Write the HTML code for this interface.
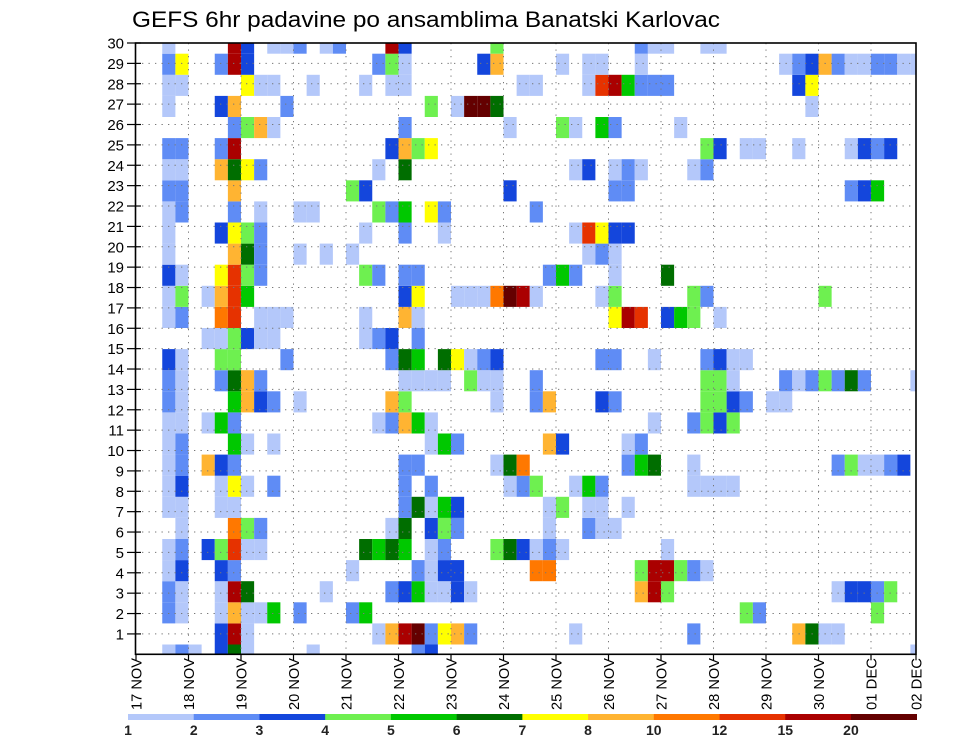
<!DOCTYPE html>
<html><head><meta charset="utf-8"><title>GEFS 6hr padavine</title>
<style>
html,body{margin:0;padding:0;background:#fff;}
svg{display:block;font-family:"Liberation Sans",sans-serif;}
</style></head>
<body>
<svg id="chart" width="960" height="742" viewBox="0 0 960 742" xmlns="http://www.w3.org/2000/svg">
  <defs><clipPath id="plotclip"><rect x="135.5" y="43" width="780.5" height="611.3"/></clipPath></defs>
  <text x="132" y="27" font-size="22" textLength="588" lengthAdjust="spacingAndGlyphs">GEFS 6hr padavine po ansamblima Banatski Karlovac</text>
  <g id="cells" clip-path="url(#plotclip)"></g>
  <g id="grid"></g>
  <rect x="135.5" y="43" width="780.5" height="611.3" fill="none" stroke="#000" stroke-width="1.6"/>
  <g id="yaxis"></g>
  <g id="xaxis"></g>
  <g id="legend"></g>
</svg>
<script>
// ---- data ----
const levelCodes = ["a","b","c","d","e","f","g","h","i","j","k","l"];
const levelColors = ["#b4c8fa","#5f8cf5","#1446dc","#6ef050","#00c800","#006e00","#ffff00","#ffb432","#ff7800","#e63200","#aa0000","#640000"];
const levelLabels = ["1","2","3","4","5","6","7","8","10","12","15","20"];
const dayLabels = ["17 NOV","18 NOV","19 NOV","20 NOV","21 NOV","22 NOV","23 NOV","24 NOV","25 NOV","26 NOV","27 NOV","28 NOV","29 NOV","30 NOV","01 DEC","02 DEC"];
const memberLabels = [1,2,3,4,5,6,7,8,9,10,11,12,13,14,15,16,17,18,19,20,21,22,23,24,25,26,27,28,29,30];
// member rows (index = row from bottom), entries "column+levelcode", column = 6-hour step from 17 NOV 00Z
const rows = [
"2a 3b 4a 6c 7f 8a 13a 21b 22c 59a",
"6c 7k 8a 18a 19h 20k 21l 22b 23g 24h 25b 33a 42b 50h 51f 52a 53a",
"2b 3a 6a 7h 8a 9a 10e 12b 16b 17e 46d 47b 56d",
"2b 3a 6a 7k 8f 14a 19b 20c 21e 22a 23a 24c 25a 38h 39k 40d 53a 54c 55c 56b 57d",
"2a 3c 6c 7b 16a 21b 22a 23c 24c 30i 31i 38d 39k 40k 41d 42b 43a",
"2a 3b 5c 6d 7j 8a 9a 17f 18e 19f 20e 22a 23b 27d 28f 29c 30a 31b 32a 40a",
"3a 7i 8d 9b 19a 20f 22c 23d 24b 31a 34b 35a 36a",
"2a 3a 6a 7a 20b 21f 22a 23e 24c 31a 32d 34a 35a 37a",
"2a 3c 6a 7g 8a 10b 20b 22b 28a 29b 30d 33a 34e 35b 42a 43a 44a 45a",
"2a 3b 5h 6c 7b 20b 21b 27a 28f 29i 37b 38e 39f 42a 53b 54d 55a 56a 57b 58c",
"2a 3b 7e 8a 10a 22a 23e 24b 31h 32c 37a 38b",
"2a 3a 5a 6e 7b 18a 19b 20h 21e 22a 39a 42b 43d 44c 45d",
"2b 3a 7e 8h 9c 10b 12a 19h 20d 27a 30b 31h 35c 36b 43d 44d 45c 46b 48a 49a",
"2b 3a 6b 7f 8h 9b 20a 21a 22a 23a 25d 26a 27a 30b 43d 44d 45a 49b 50a 51b 52d 53b 54f 55b 59a",
"2c 3a 6d 7d 11b 19b 20f 21e 23f 24g 25a 26b 27c 35b 36b 39a 43b 44c 45a 46a",
"5a 6a 7d 8c 9a 10a 17a 18b 19c 21b",
"2a 3b 6i 7j 9a 10a 11a 17a 20h 21a 36g 37k 38j 40c 41e 42d 44a",
"2a 3d 5a 6h 7j 8e 20c 21g 24a 25a 26a 27i 28l 29k 30a 35a 36d 42d 43b 52d",
"2c 3a 6g 7j 8d 9b 17d 18b 20b 21b 31b 32e 33b 36a 40f",
"2a 7h 8f 9b 12a 14a 16a 34a 35b 36a",
"2a 6c 7g 8d 9b 17a 20b 23a 33a 34j 35g 36c 37c",
"2a 3b 7b 9a 12a 13a 18d 19b 20e 22g 23b 30b",
"2b 3b 7h 16d 17c 28c 36b 37b 54b 55c 56e",
"2a 3a 6h 7f 8g 9b 18a 20f 33a 34c 36a 37b 38a 42a 43b",
"2b 3b 6b 7k 19c 20h 21d 22g 43d 44c 46a 47a 50a 54a 55c 56b 57c",
"7b 8d 9h 10a 20b 28a 32d 33a 35e 36b 41a",
"2a 6c 7h 11b 22d 24a 25l 26l 27f 51a",
"2a 3a 8g 9a 10a 13a 17a 19a 20a 29a 30a 34a 35j 36k 37e 38b 39b 40b 50c 51g",
"2b 3g 6b 7k 8c 18b 19d 20a 26c 27h 32a 34a 35a 38a 49a 50b 51c 52h 53b 54a 55a 56b 57b 58a 59a",
"2a 7k 8c 10a 11a 12b 14a 15b 19k 20c 27d 38b 39a 40a 43a 44a"
];

// ---- scales ----
const NS = "http://www.w3.org/2000/svg";
const PL = 135.5, PR = 916, PT = 43, PB = 654.3;
const X0 = 136, DAY = 52.5, CW = DAY / 4;
const ROWBASE = 644.5, RH = 21.1;
const xDay = d => (d >= 15 ? PR : X0 + d * DAY);
const xCol = c => X0 + c * CW;
const yRowTop = r => ROWBASE - r * RH;
const yLabel = m => PB - m * (PB - PT) / 30;
function mk(tag, attrs, parent) {
  const e = document.createElementNS(NS, tag);
  for (const k in attrs) e.setAttribute(k, attrs[k]);
  parent.appendChild(e);
  return e;
}

// ---- cells ----
const gCells = document.getElementById("cells");
rows.forEach((row, r) => {
  row.split(" ").forEach(tok => {
    if (!tok) return;
    const c = parseInt(tok, 10);
    const code = tok.replace(/[0-9]/g, "");
    const lvl = levelCodes.indexOf(code);
    const rect = mk("rect", {x: xCol(c).toFixed(2), y: yRowTop(r).toFixed(2), width: CW.toFixed(2), height: RH.toFixed(2), fill: levelColors[lvl]}, gCells);
    
    
  });
});

// ---- grid ----
const gGrid = document.getElementById("grid");
memberLabels.forEach(m => {
  if (m >= 30) return;
  const y = yLabel(m);
  const ln = mk("line", {x1: PL, x2: PR, y1: y, y2: y, stroke: "#777", "stroke-width": 1, "stroke-dasharray": "1.3 5.2"}, gGrid);
  
  
});
dayLabels.forEach((lab, d) => {
  if (d === 0 || d >= 15) return;
  const x = xDay(d);
  const ln = mk("line", {x1: x, x2: x, y1: PT, y2: PB, stroke: "#777", "stroke-width": 1, "stroke-dasharray": "1.3 5.2"}, gGrid);
  
  
});

// ---- y axis ----
const gY = document.getElementById("yaxis");
memberLabels.forEach(m => {
  const y = yLabel(m);
  const t = mk("line", {x1: 127, x2: 141, y1: y, y2: y, stroke: "#000", "stroke-width": 1.2}, gY);
  
  
  const tx = mk("text", {x: 124, y: y + 5.5, "font-size": 15, "text-anchor": "end", fill: "#000"}, gY);
  tx.textContent = m;
  
  
});

// ---- x axis ----
const gX = document.getElementById("xaxis");
dayLabels.forEach((lab, d) => {
  const x = xDay(d);
  const t = mk("line", {x1: x, x2: x, y1: PB, y2: PB + 6, stroke: "#000", "stroke-width": 1.2}, gX);
  
  
  const tx = mk("text", {x: 0, y: 0, "font-size": 15, "text-anchor": "end", textLength: 52, lengthAdjust: "spacingAndGlyphs", transform: "translate(" + (x + 5.5) + ",658) rotate(-90)", fill: "#000"}, gX);
  tx.textContent = lab;
  
  
});

// ---- colorbar ----
const gL = document.getElementById("legend");
const LB0 = 128, LB1 = 916.7, LW = (LB1 - LB0) / levelColors.length;
levelColors.forEach((col, i) => {
  const r = mk("rect", {x: LB0 + i * LW, y: 714, width: LW + 0.3, height: 6, fill: col}, gL);
  
  
});
levelLabels.forEach((lab, i) => {
  const tx = mk("text", {x: LB0 + i * LW, y: 735, "font-size": 14, "font-weight": "bold", "text-anchor": "middle", fill: "#222"}, gL);
  tx.textContent = lab;
  
  
});
</script>
</body></html>
